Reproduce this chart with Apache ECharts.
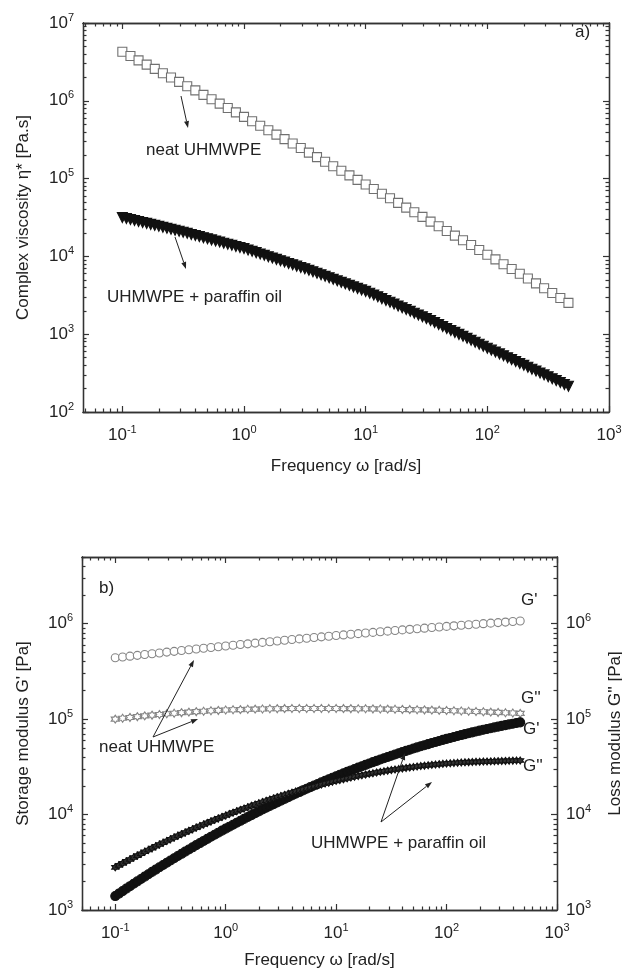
<!DOCTYPE html>
<html lang="en">
<head>
<meta charset="UTF-8">
<title>UHMWPE melt rheology</title>
<script src="https://cdn.jsdelivr.net/npm/echarts@6.0.0/dist/echarts.min.js"></script>
<style>
    html, body { margin: 0; padding: 0; background: #fff; }
    #chart { width: 622px; height: 971px; }
</style>
</head>
<body>
<div id="chart"></div>
<script>
    // frequency sweep of the neat melt [rad/s]
    const freq = [0.1, 0.1166, 0.1359, 0.1585, 0.1848, 0.2154, 0.2512, 0.2929, 0.3415, 0.3981, 0.4642, 0.5412, 0.631, 0.7356, 0.8577,
        1, 1.166, 1.359, 1.585, 1.848, 2.154, 2.512, 2.929, 3.415, 3.981, 4.642, 5.412, 6.31, 7.356, 8.577,
        10, 11.66, 13.59, 15.85, 18.48, 21.54, 25.12, 29.29, 34.15, 39.81, 46.42, 54.12, 63.1, 73.56, 85.77,
        100, 116.6, 135.9, 158.5, 184.8, 215.4, 251.2, 292.9, 341.5, 398.1, 464.2];
    // the oil-filled melt was swept with a finer step [rad/s]
    const freqOil = [0.1, 0.108, 0.1166, 0.1259, 0.1359, 0.1468, 0.1585, 0.1711, 0.1848, 0.1995,
        0.2154, 0.2326, 0.2512, 0.2712, 0.2929, 0.3162, 0.3415, 0.3687, 0.3981, 0.4299,
        0.4642, 0.5012, 0.5412, 0.5843, 0.631, 0.6813, 0.7356, 0.7943, 0.8577, 0.9261,
        1, 1.08, 1.166, 1.259, 1.359, 1.468, 1.585, 1.711, 1.848, 1.995,
        2.154, 2.326, 2.512, 2.712, 2.929, 3.162, 3.415, 3.687, 3.981, 4.299,
        4.642, 5.012, 5.412, 5.843, 6.31, 6.813, 7.356, 7.943, 8.577, 9.261,
        10, 10.8, 11.66, 12.59, 13.59, 14.68, 15.85, 17.11, 18.48, 19.95,
        21.54, 23.26, 25.12, 27.12, 29.29, 31.62, 34.15, 36.87, 39.81, 42.99,
        46.42, 50.12, 54.12, 58.43, 63.1, 68.13, 73.56, 79.43, 85.77, 92.61,
        100, 108, 116.6, 125.9, 135.9, 146.8, 158.5, 171.1, 184.8, 199.5,
        215.4, 232.6, 251.2, 271.2, 292.9, 316.2, 341.5, 368.7, 398.1, 429.9, 464.2];

    // a) complex viscosity [Pa.s]
    const etaNeat = [4270000, 3760000, 3310000, 2920000, 2570000, 2260000, 1990000, 1750000, 1540000, 1360000,
        1190000, 1047000, 919000, 807000, 709000, 622000, 545000, 478000, 419000, 367000,
        322000, 282000, 247000, 216000, 189000, 165000, 144000, 126000, 110000, 96300,
        84100, 73400, 64000, 55800, 48700, 42400, 37000, 32200, 28000, 24400,
        21200, 18500, 16100, 14000, 12100, 10500, 9150, 7940, 6900, 5980,
        5190, 4500, 3900, 3380, 2920, 2530];
    const etaOil = [31620, 30720, 29830, 28970, 28140, 27330, 26550, 25780, 25040, 24320,
        23620, 22950, 22280, 21640, 21020, 20420, 19770, 19140, 18540, 17950,
        17380, 16830, 16290, 15780, 15280, 14790, 14320, 13870, 13430, 13000,
        12590, 12100, 11620, 11170, 10730, 10310, 9908, 9521, 9149, 8790,
        8447, 8117, 7798, 7493, 7200, 6918, 6617, 6329, 6053, 5790,
        5538, 5297, 5066, 4846, 4634, 4433, 4240, 4055, 3879, 3710,
        3548, 3363, 3187, 3020, 2862, 2713, 2570, 2436, 2309, 2188,
        2074, 1965, 1862, 1765, 1673, 1585, 1495, 1411, 1330, 1255,
        1184, 1117, 1054, 994, 938, 885, 834, 787, 743, 700,
        661, 624, 590, 558, 527, 498, 471, 445, 421, 398,
        376, 355, 336, 317, 300, 283, 268, 253, 239, 226, 214];

    // b) storage G' and loss G'' moduli [Pa]
    const gpNeat = [440000, 448000, 457000, 466000, 476000, 485000, 494000, 504000, 513000, 523000,
        533000, 543000, 553000, 563000, 573000, 584000, 594000, 605000, 615000, 626000,
        637000, 648000, 659000, 671000, 682000, 693000, 704000, 716000, 728000, 739000,
        751000, 763000, 775000, 787000, 799000, 811000, 824000, 836000, 848000, 861000,
        873000, 886000, 898000, 911000, 924000, 937000, 950000, 962000, 975000, 988000,
        1001000, 1014000, 1027000, 1040000, 1053000, 1067000];
    const gppNeat = [100000, 102100, 104200, 106200, 108200, 110100, 111900, 113700, 115300, 116900,
        118400, 119800, 121100, 122300, 123500, 124500, 125300, 125800, 126800, 127300,
        127900, 128300, 128700, 129000, 129200, 129400, 129400, 129400, 129400, 129300,
        129200, 129000, 128800, 128600, 128300, 128000, 127600, 127300, 126900, 126400,
        125900, 125400, 124900, 124300, 123700, 123000, 122300, 121600, 120900, 120100,
        119300, 118400, 117600, 116700, 115800, 114800];
    const gpOil = [1400, 1486, 1578, 1674, 1776, 1882, 1995, 2113, 2237, 2368,
        2506, 2650, 2802, 2961, 3128, 3303, 3486, 3678, 3879, 4089,
        4308, 4539, 4780, 5029, 5292, 5566, 5852, 6149, 6459, 6781,
        7117, 7466, 7831, 8207, 8602, 9010, 9434, 9873, 10330, 10800,
        11290, 11800, 12320, 12870, 13430, 14010, 14610, 15230, 15870, 16530,
        17210, 17910, 18640, 19380, 20140, 20930, 21740, 22560, 23420, 24290,
        25190, 26110, 27050, 28020, 29010, 30020, 31050, 32110, 33190, 34290,
        35420, 36560, 37730, 38930, 40120, 41360, 42620, 43890, 45190, 46490,
        47820, 49180, 50540, 51930, 53330, 54760, 56180, 57640, 59090, 60560,
        62050, 63540, 65050, 66560, 68080, 69600, 71150, 72680, 74230, 75760,
        77320, 78850, 80390, 81940, 83460, 85000, 86530, 88050, 89550, 91050, 92530];
    const gppOil = [2800, 2938, 3083, 3232, 3388, 3550, 3717, 3890, 4071, 4257,
        4448, 4649, 4855, 5066, 5287, 5513, 5746, 5988, 6234, 6492,
        6752, 7022, 7300, 7582, 7877, 8175, 8483, 8796, 9119, 9447,
        9784, 10130, 10480, 10840, 11200, 11570, 11950, 12340, 12730, 13130,
        13540, 13950, 14360, 14780, 15220, 15650, 16080, 16530, 16970, 17420,
        17880, 18340, 18790, 19260, 19720, 20190, 20660, 21130, 21600, 22070,
        22540, 23010, 23490, 23950, 24420, 24880, 25340, 25800, 26250, 26700,
        27140, 27580, 28010, 28440, 28860, 29260, 29670, 30070, 30450, 30830,
        31200, 31560, 31900, 32240, 32560, 32870, 33170, 33460, 33730, 33990,
        34240, 34470, 34690, 34890, 35080, 35250, 35410, 35550, 35680, 35800,
        35900, 36000, 36100, 36200, 36300, 36400, 36500, 36600, 36700, 36800, 36900];

    // tick labels (decades) and the 2..9 minor ticks
    const xMajor = [0.1, 1, 10, 100, 1000];
    const yMajorA = [1e2, 1e3, 1e4, 1e5, 1e6, 1e7];
    const yMajorB = [1e3, 1e4, 1e5, 1e6];
    const mantissas = [2, 3, 4, 5, 6, 7, 8, 9];

    const FONT = '"Liberation Sans", Arial, sans-serif';
    const INK = '#222';

    function minorTicks(decades) {
        const out = [];
        decades.forEach(d => mantissas.forEach(m => out.push(+(m * d).toPrecision(3))));
        return out;
    }
    const xMinor = minorTicks([0.01, 0.1, 1, 10, 100]);
    const yMinorA = minorTicks([1e2, 1e3, 1e4, 1e5, 1e6]);
    const yMinorB = minorTicks([1e3, 1e4, 1e5, 1e6]);

    function powLabel(v) {
        return '{b|10}{e|' + Math.round(Math.log10(v)) + '}';
    }
    const powRich = {
        b: { fontSize: 17, lineHeight: 22, fontFamily: FONT, color: INK },
        e: { fontSize: 11, lineHeight: 12, verticalAlign: 'top', fontFamily: FONT, color: INK }
    };

    // one side of a log axis box; labelled or not, major or minor ticks
    function side(dim, grid, min, max, pos, ticks, len, label, name, gap) {
        const ax = {
            type: 'log', logBase: 10, gridIndex: grid, min: min, max: max, position: pos,
            axisLine: { show: true, lineStyle: { color: '#333', width: 1.3 } },
            axisTick: { show: true, inside: true, length: len, customValues: ticks, lineStyle: { color: '#333', width: 1.2 } },
            axisLabel: { show: false },
            splitLine: { show: false },
            minorTick: { show: false }
        };
        if (label) {
            ax.axisLabel = {
                show: true, customValues: ticks, formatter: powLabel, rich: powRich,
                margin: dim === 'x' ? 12 : 9
            };
        }
        if (name) {
            ax.name = name;
            ax.nameLocation = 'middle';
            ax.nameGap = gap;
            ax.nameTextStyle = { fontSize: 17, fontFamily: FONT, color: INK };
            if (dim === 'y') ax.nameRotate = 90;
        }
        return ax;
    }

    const xAxes = [
        // grid 0 : a)
        side('x', 0, 0.0475, 1000, 'bottom', xMajor, 6, true, 'Frequency \u03c9 [rad/s]', 46),
        side('x', 0, 0.0475, 1000, 'bottom', xMinor, 3.5, false),
        side('x', 0, 0.0475, 1000, 'top', xMajor, 6, false),
        side('x', 0, 0.0475, 1000, 'top', xMinor, 3.5, false),
        // grid 1 : b)
        side('x', 1, 0.05, 1000, 'bottom', xMajor, 6, true, 'Frequency \u03c9 [rad/s]', 42),
        side('x', 1, 0.05, 1000, 'bottom', xMinor, 3.5, false),
        side('x', 1, 0.05, 1000, 'top', xMajor, 6, false),
        side('x', 1, 0.05, 1000, 'top', xMinor, 3.5, false)
    ];
    const yAxes = [
        side('y', 0, 1e2, 1e7, 'left', yMajorA, 6, true, 'Complex viscosity \u03b7* [Pa.s]', 51),
        side('y', 0, 1e2, 1e7, 'left', yMinorA, 3.5, false),
        side('y', 0, 1e2, 1e7, 'right', yMajorA, 6, false),
        side('y', 0, 1e2, 1e7, 'right', yMinorA, 3.5, false),
        side('y', 1, 1e3, 5e6, 'left', yMajorB, 6, true, "Storage modulus G' [Pa]", 50),
        side('y', 1, 1e3, 5e6, 'left', yMinorB, 3.5, false),
        side('y', 1, 1e3, 5e6, 'right', yMajorB, 6, true, "Loss modulus G'' [Pa]", 50),
        side('y', 1, 1e3, 5e6, 'right', yMinorB, 3.5, false)
    ];

    const STAR = 'path://M0,-10L2.9,-5L8.66,-5L5.8,0L8.66,5L2.9,5L0,10L-2.9,5L-8.66,5L-5.8,0L-8.66,-5L-2.9,-5Z';

    function scat(name, xs, ys, grid, symbol, size, fill, stroke, extra) {
        return Object.assign({
            name: name, type: 'scatter', xAxisIndex: grid * 4, yAxisIndex: grid * 4,
            data: xs.map((f, i) => [f, ys[i]]), symbol: symbol, symbolSize: size, silent: true,
            itemStyle: { color: fill, borderColor: stroke, borderWidth: 1.1, opacity: 1 }
        }, extra || {});
    }

    const series = [
        scat('neat UHMWPE', freq, etaNeat, 0, 'rect', 9, '#fff', '#707070'),
        scat('UHMWPE + paraffin oil', freqOil, etaOil, 0, 'triangle', 10, '#111', '#111', { symbolRotate: 180 }),
        scat("neat G'", freq, gpNeat, 1, 'circle', 8, '#fff', '#858585'),
        scat("neat G''", freq, gppNeat, 1, STAR, 8, '#fff', '#858585'),
        scat("oil G'", freqOil, gpOil, 1, 'circle', 9, '#111', '#111'),
        scat("oil G''", freqOil, gppOil, 1, STAR, 7, '#333', '#111')
    ];

    function text(str, x, y, align) {
        return {
            type: 'text', silent: true, z: 50,
            style: { text: str, x: x, y: y, fill: INK, font: '17px ' + FONT, textAlign: align || 'left', textVerticalAlign: 'middle' }
        };
    }
    function arrow(x1, y1, x2, y2) {
        const dx = x2 - x1, dy = y2 - y1, len = Math.sqrt(dx * dx + dy * dy);
        const ux = dx / len, uy = dy / len, bx = x2 - ux * 7, by = y2 - uy * 7;
        return [
            { type: 'line', silent: true, z: 50, shape: { x1: x1, y1: y1, x2: bx, y2: by }, style: { stroke: INK, lineWidth: 1 } },
            { type: 'polygon', silent: true, z: 50, shape: { points: [[x2, y2], [bx - uy * 2.5, by + ux * 2.5], [bx + uy * 2.5, by - ux * 2.5]] }, style: { fill: INK } }
        ];
    }

    const graphics = [
        text('a)', 575, 32),
        text('neat UHMWPE', 146, 150),
        ...arrow(181, 96, 188, 128),
        text('UHMWPE + paraffin oil', 107, 297),
        ...arrow(175, 237, 186, 269),

        text('b)', 99, 588),
        text("G'", 521, 600),
        text("G''", 521, 698),
        text("G'", 523, 729),
        text("G''", 523, 766),
        text('neat UHMWPE', 99, 747),
        ...arrow(153, 737, 194, 660),
        ...arrow(153, 737, 198, 719),
        text('UHMWPE + paraffin oil', 311, 843),
        ...arrow(381, 822, 405, 753),
        ...arrow(381, 822, 432, 782)
    ];

    const chart = echarts.init(document.getElementById('chart'), null, { renderer: 'canvas' });
    chart.setOption({
        animation: false,
        backgroundColor: '#fff',
        textStyle: { fontFamily: FONT },
        grid: [
            { left: 83, top: 23, width: 526, height: 389, outerBoundsMode: 'none' },
            { left: 82, top: 557, width: 475, height: 353, outerBoundsMode: 'none' }
        ],
        xAxis: xAxes,
        yAxis: yAxes,
        series: series,
        graphic: graphics
    });
</script>
</body>
</html>
